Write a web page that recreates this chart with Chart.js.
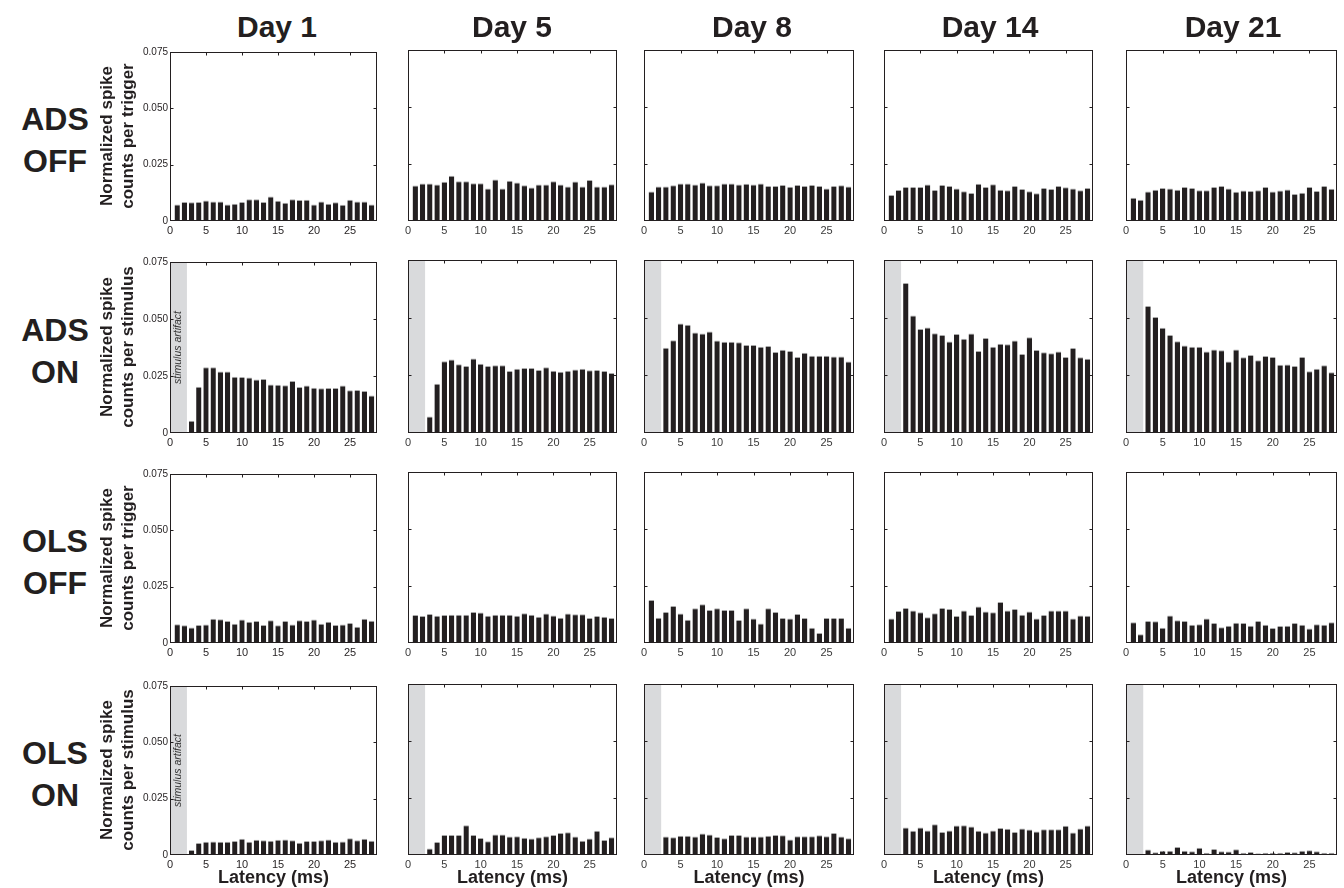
<!DOCTYPE html>
<html>
<head>
<meta charset="utf-8">
<title>Spike counts per latency bin</title>
<script src="https://cdn.jsdelivr.net/npm/chart.js@4.4.1/dist/chart.umd.min.js"></script>
<style>
  html, body { margin: 0; padding: 0; background: #fff; }
  #fig { position: relative; width: 1344px; height: 888px; overflow: hidden; font-family: "Liberation Sans", Arial, sans-serif; color: #231f20; }
  #fig canvas { position: absolute; }
  .lbl { position: absolute; white-space: nowrap; font-weight: bold; transform: translate(-50%, -50%); text-align: center; }
  .day { font-size: 30px; }
  .cond { font-size: 32px; line-height: 42px; }
  .ytitle { font-size: 17px; line-height: 21px; transform: translate(-50%, -50%) rotate(-90deg); }
  .xtitle { font-size: 18px; }
</style>
</head>
<body>
<div id="fig"></div>
<script>
// latency bins (ms)
const latency = [1,2,3,4,5,6,7,8,9,10,11,12,13,14,15,16,17,18,19,20,21,22,23,24,25,26,27,28];
const xTicks = [0,5,10,15,20,25];
const yTicks = [0,0.025,0.050,0.075];
const days = ['Day 1','Day 5','Day 8','Day 14','Day 21'];
const conditions = [['ADS','OFF'],['ADS','ON'],['OLS','OFF'],['OLS','ON']];
const artifactEnd = 2.35;

// ADS OFF (per trigger)
const adsOffDay1  = [0.0073,0.0084,0.0083,0.0084,0.0091,0.0086,0.0087,0.0073,0.0077,0.0084,0.0096,0.0096,0.0084,0.0109,0.0090,0.0081,0.0096,0.0093,0.0094,0.0073,0.0086,0.0077,0.0083,0.0072,0.0094,0.0086,0.0086,0.0073];
const adsOffDay5  = [0.0156,0.0164,0.0164,0.0160,0.0172,0.0199,0.0174,0.0174,0.0166,0.0166,0.0142,0.0182,0.0142,0.0176,0.0169,0.0157,0.0147,0.0160,0.0160,0.0174,0.0160,0.0151,0.0173,0.0151,0.0180,0.0151,0.0151,0.0161];
const adsOffDay8  = [0.0129,0.0151,0.0151,0.0157,0.0164,0.0164,0.0160,0.0169,0.0157,0.0157,0.0164,0.0164,0.0160,0.0163,0.0160,0.0164,0.0153,0.0153,0.0158,0.0150,0.0158,0.0153,0.0158,0.0154,0.0142,0.0153,0.0157,0.0151];
const adsOffDay14 = [0.0114,0.0136,0.0149,0.0149,0.0149,0.0160,0.0136,0.0158,0.0153,0.0142,0.0130,0.0123,0.0163,0.0149,0.0161,0.0137,0.0135,0.0154,0.0140,0.0130,0.0122,0.0145,0.0140,0.0154,0.0148,0.0143,0.0135,0.0145];
const adsOffDay21 = [0.0102,0.0093,0.0129,0.0137,0.0145,0.0143,0.0137,0.0149,0.0145,0.0135,0.0135,0.0149,0.0154,0.0143,0.0128,0.0134,0.0132,0.0135,0.0149,0.0129,0.0134,0.0138,0.0118,0.0124,0.0149,0.0132,0.0153,0.0141];

// ADS ON (per stimulus), first bins hidden by the artifact
const adsOnDay1  = [null,null,0.0054,0.0203,0.0288,0.0288,0.0270,0.0270,0.0247,0.0246,0.0243,0.0235,0.0237,0.0213,0.0212,0.0209,0.0228,0.0202,0.0208,0.0199,0.0196,0.0197,0.0197,0.0208,0.0187,0.0189,0.0184,0.0165];
const adsOnDay5  = [null,null,0.0072,0.0213,0.0311,0.0319,0.0298,0.0291,0.0323,0.0300,0.0290,0.0294,0.0294,0.0269,0.0278,0.0282,0.0282,0.0273,0.0285,0.0270,0.0266,0.0270,0.0275,0.0279,0.0272,0.0273,0.0269,0.0260];
const adsOnDay8  = [null,null,0.0370,0.0402,0.0475,0.0469,0.0436,0.0431,0.0440,0.0401,0.0396,0.0396,0.0393,0.0382,0.0382,0.0374,0.0377,0.0351,0.0361,0.0355,0.0329,0.0348,0.0335,0.0335,0.0335,0.0332,0.0332,0.0310];
const adsOnDay14 = [null,null,0.0650,0.0509,0.0451,0.0457,0.0432,0.0425,0.0397,0.0429,0.0409,0.0431,0.0356,0.0412,0.0374,0.0387,0.0385,0.0401,0.0343,0.0415,0.0360,0.0350,0.0346,0.0353,0.0330,0.0369,0.0328,0.0322];
const adsOnDay21 = [null,null,0.0551,0.0503,0.0456,0.0425,0.0398,0.0379,0.0374,0.0374,0.0353,0.0362,0.0359,0.0310,0.0362,0.0328,0.0338,0.0315,0.0334,0.0329,0.0296,0.0297,0.0291,0.0329,0.0268,0.0278,0.0294,0.0263];

// OLS OFF (per trigger)
const olsOffDay1  = [0.0083,0.0079,0.0069,0.0080,0.0082,0.0108,0.0105,0.0098,0.0085,0.0104,0.0094,0.0098,0.0080,0.0101,0.0079,0.0098,0.0082,0.0101,0.0098,0.0104,0.0085,0.0094,0.0080,0.0082,0.0089,0.0072,0.0108,0.0099];
const olsOffDay5  = [0.0123,0.0118,0.0127,0.0120,0.0123,0.0124,0.0124,0.0124,0.0136,0.0134,0.0120,0.0124,0.0124,0.0124,0.0120,0.0130,0.0124,0.0115,0.0129,0.0121,0.0111,0.0129,0.0126,0.0126,0.0110,0.0118,0.0115,0.0110];
const olsOffDay8  = [0.0189,0.0111,0.0136,0.0162,0.0129,0.0102,0.0152,0.0170,0.0145,0.0152,0.0145,0.0145,0.0101,0.0152,0.0108,0.0085,0.0152,0.0136,0.0110,0.0107,0.0127,0.0110,0.0067,0.0044,0.0110,0.0110,0.0110,0.0067];
const olsOffDay14 = [0.0107,0.0140,0.0154,0.0142,0.0135,0.0113,0.0130,0.0154,0.0149,0.0118,0.0142,0.0123,0.0160,0.0138,0.0135,0.0180,0.0142,0.0149,0.0124,0.0138,0.0107,0.0123,0.0142,0.0142,0.0143,0.0108,0.0121,0.0120];
const olsOffDay21 = [0.0091,0.0038,0.0097,0.0095,0.0067,0.0121,0.0100,0.0097,0.0080,0.0082,0.0107,0.0088,0.0069,0.0076,0.0089,0.0088,0.0076,0.0097,0.0080,0.0066,0.0075,0.0076,0.0088,0.0080,0.0064,0.0082,0.0080,0.0091];

// OLS ON (per stimulus)
const olsOnDay1  = [null,null,0.0022,0.0053,0.0059,0.0060,0.0059,0.0059,0.0062,0.0072,0.0059,0.0068,0.0065,0.0063,0.0068,0.0069,0.0066,0.0054,0.0062,0.0062,0.0066,0.0069,0.0059,0.0060,0.0074,0.0066,0.0072,0.0063];
const olsOnDay5  = [null,null,0.0029,0.0057,0.0088,0.0088,0.0088,0.0131,0.0088,0.0075,0.0060,0.0090,0.0090,0.0081,0.0082,0.0076,0.0072,0.0078,0.0082,0.0088,0.0096,0.0100,0.0081,0.0063,0.0072,0.0106,0.0066,0.0078];
const olsOnDay8  = [null,null,0.0081,0.0078,0.0084,0.0084,0.0081,0.0094,0.0090,0.0079,0.0074,0.0088,0.0088,0.0081,0.0081,0.0081,0.0084,0.0088,0.0087,0.0068,0.0082,0.0082,0.0082,0.0087,0.0082,0.0097,0.0081,0.0074];
const olsOnDay14 = [null,null,0.0121,0.0106,0.0121,0.0107,0.0135,0.0101,0.0107,0.0129,0.0131,0.0125,0.0106,0.0099,0.0107,0.0118,0.0115,0.0101,0.0116,0.0112,0.0103,0.0113,0.0113,0.0113,0.0128,0.0099,0.0116,0.0129];
const olsOnDay21 = [null,null,0.0024,0.0012,0.0019,0.0019,0.0035,0.0019,0.0016,0.0032,0.0010,0.0026,0.0016,0.0015,0.0025,0.0010,0.0013,0.0008,0.0010,0.0010,0.0010,0.0013,0.0012,0.0019,0.0021,0.0016,0.0010,0.0010];

const grid = [
  [adsOffDay1, adsOffDay5, adsOffDay8, adsOffDay14, adsOffDay21],
  [adsOnDay1,  adsOnDay5,  adsOnDay8,  adsOnDay14,  adsOnDay21],
  [olsOffDay1, olsOffDay5, olsOffDay8, olsOffDay14, olsOffDay21],
  [olsOnDay1,  olsOnDay5,  olsOnDay8,  olsOnDay14,  olsOnDay21]
];

// panel geometry (plot areas in page pixels)
const colLeft  = [170, 408, 644, 884, 1126];
const colWidth = [207, 209, 210, 209, 211];
const rowTop   = [50, 260, 472, 684];
const rowHeight= [171, 173, 171, 171];
const titleX   = [277, 512, 752, 990, 1233];

const fig = document.getElementById('fig');

function addLabel(html, cls, x, y) {
  const d = document.createElement('div');
  d.className = 'lbl ' + cls;
  d.innerHTML = html;
  d.style.left = x + 'px';
  d.style.top = y + 'px';
  fig.appendChild(d);
}

const framePlugin = {
  id: 'frame',
  beforeDatasetsDraw(chart, args, opts) {
    if (!opts.artifact) return;
    const ctx = chart.ctx, a = chart.chartArea, x = chart.scales.x;
    const x0 = x.getPixelForValue(0), x1 = x.getPixelForValue(artifactEnd);
    ctx.save();
    ctx.fillStyle = '#d9dadc';
    ctx.fillRect(x0, a.top, x1 - x0, a.bottom - a.top);
    if (opts.note) {
      ctx.translate((x0 + x1) / 2, (a.top + a.bottom) / 2);
      ctx.rotate(-Math.PI / 2);
      ctx.font = 'italic 10.5px "Liberation Sans", Arial, sans-serif';
      ctx.fillStyle = '#333';
      ctx.textAlign = 'center';
      ctx.textBaseline = 'middle';
      ctx.fillText('stimulus artifact', 0, 0);
    }
    ctx.restore();
  },
  afterDraw(chart) {
    const ctx = chart.ctx, a = chart.chartArea, sx = chart.scales.x, sy = chart.scales.y;
    const L = Math.round(a.left) + 0.5, R = Math.round(a.right) - 0.5;
    const T = Math.round(a.top) + 0.5, B = Math.round(a.bottom) - 0.5;
    ctx.save();
    ctx.strokeStyle = '#231f20';
    ctx.lineWidth = 1;
    ctx.strokeRect(L, T, R - L, B - T);
    ctx.beginPath();
    xTicks.forEach(v => {
      if (v === 0) return;
      const p = Math.round(sx.getPixelForValue(v)) + 0.5;
      ctx.moveTo(p, B); ctx.lineTo(p, B - 3);
      ctx.moveTo(p, T); ctx.lineTo(p, T + 3);
    });
    yTicks.forEach(v => {
      if (v === 0 || v === 0.075) return;
      const p = Math.round(sy.getPixelForValue(v)) + 0.5;
      ctx.moveTo(L, p); ctx.lineTo(L + 3, p);
      ctx.moveTo(R, p); ctx.lineTo(R - 3, p);
    });
    ctx.stroke();
    ctx.restore();
  }
};

const padL = 35, padT = 6, padR = 6, padB = 20;

grid.forEach((row, r) => {
  row.forEach((vals, c) => {
    const w = colWidth[c], h = rowHeight[r];
    const cv = document.createElement('canvas');
    cv.width = w + padL + padR;
    cv.height = h + padT + padB;
    cv.style.left = (colLeft[c] - padL) + 'px';
    cv.style.top = (rowTop[r] - padT) + 'px';
    fig.appendChild(cv);
    const isOn = r % 2 === 1;
    const first = c === 0;
    new Chart(cv, {
      type: 'bar',
      data: {
        datasets: [{
          data: latency.map((x, i) => ({ x: x, y: vals[i] })),
          backgroundColor: '#231f20',
          borderColor: '#a9a9a9',
          borderWidth: { top: 1, left: 0, right: 0, bottom: 0 },
          borderSkipped: 'bottom',
          barPercentage: 0.74,
          categoryPercentage: 1
        }]
      },
      options: {
        responsive: false,
        animation: false,
        devicePixelRatio: 1,
        layout: { padding: { left: 0, top: padT, right: padR, bottom: 0 } },
        plugins: {
          legend: { display: false },
          tooltip: { enabled: false },
          frame: { artifact: isOn, note: isOn && first }
        },
        scales: {
          x: {
            type: 'linear',
            min: 0, max: 28.75,
            offset: false,
            grid: { display: false, offset: false, drawTicks: false },
            border: { display: false },
            afterBuildTicks: s => { s.ticks = xTicks.map(v => ({ value: v })); },
            afterFit: s => { s.height = padB; },
            ticks: {
              padding: 3,
              maxRotation: 0,
              autoSkip: false,
              color: first ? '#231f20' : '#3a3a3a',
              font: first ? { family: '"Liberation Sans Narrow", "Liberation Sans", Arial', size: 11 }
                          : { family: '"Liberation Sans", Arial', size: 11 }
            }
          },
          y: {
            min: 0, max: 0.075,
            grid: { display: false, drawTicks: false },
            border: { display: false },
            afterBuildTicks: s => { s.ticks = yTicks.map(v => ({ value: v })); },
            afterFit: s => { s.width = padL; },
            ticks: {
              display: first,
              padding: 2,
              color: '#231f20',
              font: { family: '"Liberation Sans Narrow", "Liberation Sans", Arial', size: 10 },
              callback: v => v === 0 ? '0' : v.toFixed(3)
            }
          }
        }
      },
      plugins: [framePlugin]
    });
  });
});

// column titles
days.forEach((d, c) => addLabel(d, 'day', titleX[c], 27));

// row labels and y-axis titles
conditions.forEach((cond, r) => {
  const cy = rowTop[r] + rowHeight[r] / 2;
  addLabel(cond[0] + '<br>' + cond[1], 'cond', 55, cy + 4);
  const per = r % 2 === 1 ? 'counts per stimulus' : 'counts per trigger';
  addLabel('Normalized spike<br>' + per, 'ytitle', 117, cy);
});

// x-axis titles under the bottom row
colLeft.forEach((l, c) => addLabel('Latency (ms)', 'xtitle', l + colWidth[c] / 2, 877));
</script>
</body>
</html>
